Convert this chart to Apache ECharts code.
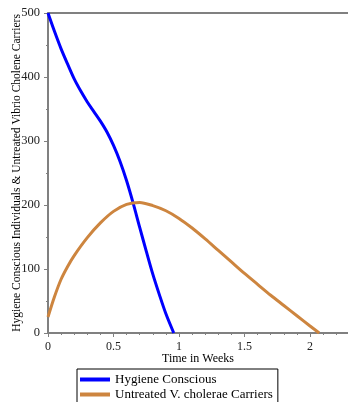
<!DOCTYPE html>
<html>
<head>
<meta charset="utf-8">
<script src="https://cdn.jsdelivr.net/npm/echarts@6/dist/echarts.min.js"></script>
<style>html,body{margin:0;padding:0;background:#fff;}#c{width:348px;height:402px;}</style>
</head>
<body>
<div id="c"></div>
<script>
var hygieneT = [0, 0.05, 0.1, 0.15, 0.2, 0.25, 0.3, 0.35, 0.4, 0.45, 0.5, 0.55, 0.6, 0.65, 0.7, 0.75, 0.8, 0.85, 0.9, 0.96];
var hygieneV = [500, 471, 444, 420, 397, 378, 361, 346, 331, 314, 293, 268, 238, 203, 165, 128, 92, 60, 30, 0];
var carrierT = [0, 0.05, 0.1, 0.15, 0.2, 0.3, 0.4, 0.5, 0.6, 0.7, 0.8, 0.9, 1.0, 1.1, 1.2, 1.3, 1.4, 1.5, 1.6, 1.7, 1.8, 1.9, 2.0, 2.07];
var carrierV = [25, 57, 84, 104, 121, 149, 172, 190, 201, 204, 199, 191, 179, 164, 147, 129, 111, 93, 76, 59, 43, 27, 11, 0];
var seriesNames = ['Hygiene Conscious', 'Untreated V. cholerae Carriers'];
var xTitle = 'Time in Weeks';
var yTitle = 'Hygiene Conscious Individuals & Untreated Vibrio Cholene Carriers';

function pairs(t, v) { return t.map(function (x, i) { return [x, v[i]]; }); }

var font = '"Liberation Serif", "Times New Roman", serif';
var axisGray = '#808080';
var chart = echarts.init(document.getElementById('c'));
chart.setOption({
  animation: false,
  grid: { left: 48, right: 0, top: 13, bottom: 69, containLabel: false, outerBoundsMode: 'none' },
  legend: {
    orient: 'vertical', left: 77, top: 369, height: 60,
    data: seriesNames,
    icon: 'rect', itemWidth: 30, itemHeight: 4, itemGap: 0,
    padding: [3, 5, 3, 3],
    borderColor: '#000', borderWidth: 1, borderRadius: 0,
    textStyle: { fontFamily: font, fontSize: 13, color: '#000', lineHeight: 15 }
  },
  xAxis: [{
    type: 'value', min: 0, max: 2.29, interval: 0.5,
    name: xTitle, nameLocation: 'middle', nameGap: 20, nameMoveOverlap: false,
    nameTextStyle: { fontFamily: font, fontSize: 12, color: '#000' },
    axisLine: { lineStyle: { color: axisGray, width: 2 } },
    axisTick: { length: 4, lineStyle: { color: axisGray } },
    minorTick: { show: true, splitNumber: 5, length: 2, lineStyle: { color: axisGray } },
    axisLabel: { showMaxLabel: false, margin: 8, fontFamily: font, fontSize: 12, color: '#222' },
    splitLine: { show: false }
  }, {
    type: 'value', position: 'top', min: 0, max: 2.29,
    axisLine: { show: true, lineStyle: { color: axisGray, width: 2 } },
    axisTick: { show: false }, axisLabel: { show: false }, splitLine: { show: false }
  }],
  yAxis: {
    type: 'value', min: 0, max: 500, interval: 100,
    name: yTitle, nameLocation: 'middle', nameGap: 25, nameRotate: 90, nameMoveOverlap: false,
    nameTextStyle: { fontFamily: font, fontSize: 11.5, color: '#000' },
    axisLine: { show: true, lineStyle: { color: axisGray, width: 2 } },
    axisTick: { show: true, length: 4, lineStyle: { color: axisGray } },
    minorTick: { show: true, splitNumber: 2, length: 2, lineStyle: { color: axisGray } },
    axisLabel: { margin: 8, fontFamily: font, fontSize: 12.5, color: '#222' },
    splitLine: { show: false }
  },
  series: [{
    name: seriesNames[0], type: 'line', smooth: 0.3, showSymbol: false,
    data: pairs(hygieneT, hygieneV),
    lineStyle: { color: '#0000FF', width: 3 }, itemStyle: { color: '#0000FF' }
  }, {
    name: seriesNames[1], type: 'line', smooth: 0.3, showSymbol: false,
    data: pairs(carrierT, carrierV),
    lineStyle: { color: '#CD853F', width: 3 }, itemStyle: { color: '#CD853F' }
  }]
});
</script>
</body>
</html>
